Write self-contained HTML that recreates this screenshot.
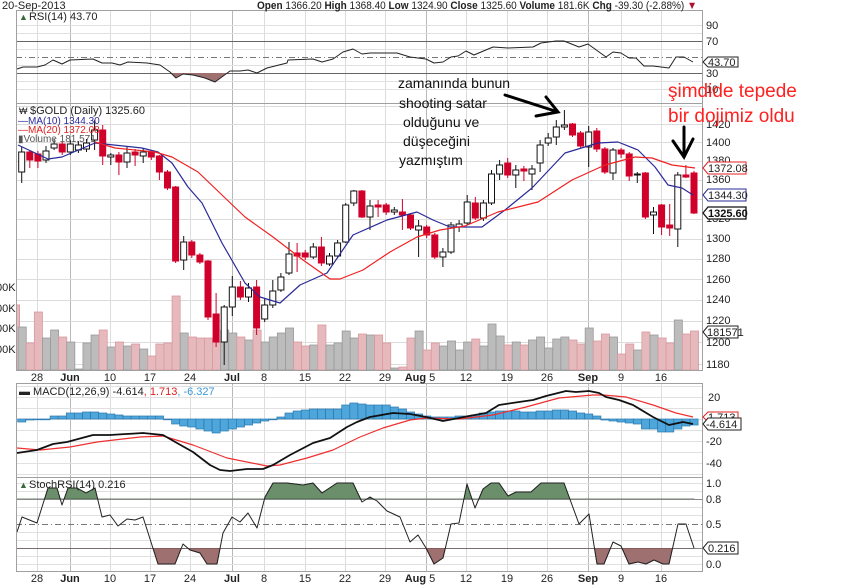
<!DOCTYPE html>
<html><head><meta charset="utf-8"><style>
html,body{margin:0;padding:0;background:#fff;}
svg{display:block;font-family:"Liberation Sans",sans-serif;}
</style></head><body>
<svg id="c" width="852" height="585" viewBox="0 0 852 585" xmlns="http://www.w3.org/2000/svg">
<defs>
<clipPath id="pa"><rect x="16" y="10" width="686" height="562"/></clipPath>
<clipPath id="rsiLow"><rect x="16" y="73" width="686" height="30"/></clipPath>
<clipPath id="stHi"><rect x="16" y="477" width="686" height="22"/></clipPath>
<clipPath id="stLo"><rect x="16" y="548" width="686" height="24"/></clipPath>
</defs>
<rect width="852" height="585" fill="#fff"/>
<g id="grid"></g>
<g id="data" clip-path="url(#pa)"></g>
<g fill="none" stroke="#a0a0a0" stroke-width="1">
<rect x="16.5" y="10.5" width="686" height="93"/>
<rect x="16.5" y="103.5" width="686" height="267"/>
<rect x="16.5" y="383.5" width="686" height="94"/>
<rect x="16.5" y="477.5" width="686" height="94"/>
</g>
<text x="2" y="9" font-size="11" fill="#222">20-Sep-2013</text>
<text x="257" y="9" font-size="11" fill="#222" textLength="440" lengthAdjust="spacingAndGlyphs"><tspan font-weight="bold">Open</tspan> 1366.20 <tspan font-weight="bold">High</tspan> 1368.40 <tspan font-weight="bold">Low</tspan> 1324.90 <tspan font-weight="bold">Close</tspan> 1325.60 <tspan font-weight="bold">Volume</tspan> 181.6K <tspan font-weight="bold">Chg</tspan> -39.30 (-2.88%) <tspan fill="#b01030">▼</tspan></text>
<g font-size="11" fill="#222">
<text x="19" y="20" fill="#3a6a3a" font-size="9">▲</text>
<text x="29" y="20">RSI(14) 43.70</text>
<text x="19" y="114" font-size="9">₩</text>
<text x="30" y="114">$GOLD (Daily) 1325.60</text>
<text x="18" y="124" fill="#2a2a9a" font-size="10">—MA(10) 1344.30</text>
<text x="18" y="133" fill="#e02020" font-size="10">—MA(20) 1372.08</text>
<text x="18" y="142" fill="#555" font-size="10">▮Volume 181,571</text>
<text x="19" y="395">▬ MACD(12,26,9) -4.614<tspan fill="#e02020">, 1.713</tspan><tspan fill="#3a9ad9">, -6.327</tspan></text>
<text x="19" y="488" fill="#3a6a3a" font-size="9">▲</text>
<text x="29" y="488">StochRSI(14) 0.216</text>
</g>
<g font-size="11" fill="#222">
<text x="706" y="29">90</text><text x="706" y="45">70</text><text x="706" y="77">30</text><text x="706" y="93">10</text>
<text x="706" y="128">1420</text><text x="706" y="146">1400</text><text x="706" y="164">1380</text><text x="706" y="183">1360</text>
<text x="706" y="222">1320</text><text x="706" y="242">1300</text><text x="706" y="262">1280</text><text x="706" y="283">1260</text>
<text x="706" y="303">1240</text><text x="706" y="324">1220</text><text x="706" y="346">1200</text><text x="706" y="368">1180</text>
<text x="708" y="401">20</text><text x="706" y="445">-20</text><text x="706" y="467">-40</text>
<text x="706" y="487">1.0</text><text x="706" y="503">0.8</text><text x="706" y="528">0.5</text><text x="706" y="568">0.0</text>
</g>
<g font-size="11" fill="#222">
<text x="-4" y="291">00K</text><text x="-4" y="312">00K</text><text x="-4" y="332">00K</text><text x="-4" y="353">00K</text>
</g>
<g font-size="11">
<path d="M703,62 L708,57 L738,57 L738,67 L708,67 Z" fill="#fff" stroke="#222"/><text x="708" y="66" fill="#222">43.70</text>
<path d="M703,168 L708,162 L746,162 L746,174 L708,174 Z" fill="#fff" stroke="#e02020"/><text x="708" y="172" fill="#222">1372.08</text>
<path d="M703,195 L708,189 L746,189 L746,201 L708,201 Z" fill="#fff" stroke="#2a2a9a"/><text x="708" y="199" fill="#222">1344.30</text>
<path d="M703,213 L708,207 L746,207 L746,219 L708,219 Z" fill="#fff" stroke="#111" stroke-width="1.3"/><text x="708" y="217" fill="#111" font-weight="bold">1325.60</text>
<path d="M703,332 L708,326 L738,326 L738,338 L708,338 Z" fill="#fff" stroke="#222"/><text x="707" y="336" fill="#222">181571</text>
<path d="M703,417 L708,412 L738,412 L738,422 L708,422 Z" fill="#fff" stroke="#e02020"/><text x="708" y="421" fill="#222">1.713</text>
<path d="M703,424 L708,418 L741,418 L741,430 L708,430 Z" fill="#fff" stroke="#222"/><text x="706" y="428" fill="#222">-4.614</text>
<path d="M703,548 L708,542 L738,542 L738,554 L708,554 Z" fill="#fff" stroke="#222"/><text x="708" y="552" fill="#222">0.216</text>
</g>
<g font-size="11" fill="#222" text-anchor="middle">
<text x="37" y="381">28</text><text x="70" y="381" font-weight="bold">Jun</text><text x="110" y="381">10</text><text x="150" y="381">17</text><text x="190" y="381">24</text><text x="232" y="381" font-weight="bold">Jul</text><text x="264" y="381">8</text><text x="305" y="381">15</text><text x="345" y="381">22</text><text x="385" y="381">29</text><text x="420" y="381"><tspan font-weight="bold">Aug</tspan> 5</text><text x="466" y="381">12</text><text x="507" y="381">19</text><text x="547" y="381">26</text><text x="588" y="381" font-weight="bold">Sep</text><text x="621" y="381">9</text><text x="661" y="381">16</text>
<text x="37" y="582">28</text><text x="70" y="582" font-weight="bold">Jun</text><text x="110" y="582">10</text><text x="150" y="582">17</text><text x="190" y="582">24</text><text x="232" y="582" font-weight="bold">Jul</text><text x="264" y="582">8</text><text x="305" y="582">15</text><text x="345" y="582">22</text><text x="385" y="582">29</text><text x="420" y="582"><tspan font-weight="bold">Aug</tspan> 5</text><text x="466" y="582">12</text><text x="507" y="582">19</text><text x="547" y="582">26</text><text x="588" y="582" font-weight="bold">Sep</text><text x="621" y="582">9</text><text x="661" y="582">16</text>
</g>
<g font-size="14" fill="#111">
<text x="398" y="88">zamanında bunun</text>
<text x="399" y="108">shooting satar</text>
<text x="403" y="127">olduğunu ve</text>
<text x="403" y="146">düşeceğini</text>
<text x="399" y="165">yazmıştım</text>
</g>
<g font-size="19" fill="#ff2020">
<text x="668" y="97">şimdide tepede</text>
<text x="668" y="122">bir dojimiz oldu</text>
</g>
<g stroke="#000" stroke-width="3" fill="none" stroke-linecap="round">
<path d="M505,95 L558,112 M546,97 L558,112 L536,116"/>
<path d="M684,127 L684,157 M673,141 L684,157 L693,139"/>
</g>
<script>
(function(){
var NS="http://www.w3.org/2000/svg";
var G=document.getElementById('grid'),D=document.getElementById('data');
function el(p,t,a){var e=document.createElementNS(NS,t);for(var k in a)e.setAttribute(k,a[k]);p.appendChild(e);return e;}
function X(i){return 21.7+8.1*i;}
var vx=[37,110,150,190,264,305,345,385,466,507,547,621,661],mx=[70,232,426,588];
[[10,103],[103,370],[383,477],[477,572]].forEach(function(r){
 vx.forEach(function(x){el(G,'line',{x1:x+.5,x2:x+.5,y1:r[0],y2:r[1],stroke:'#dcdcdc'});});
 mx.forEach(function(x){el(G,'line',{x1:x+.5,x2:x+.5,y1:r[0],y2:r[1],stroke:'#b8b8b8'});});
});
function hl(y,c,d){var a={x1:16,x2:702,y1:Math.round(y)+.5,y2:Math.round(y)+.5,stroke:c};if(d)a['stroke-dasharray']=d;el(G,'line',a);}
for(var v=10;v<=90;v+=10){var y=97-0.8*v;if(v==70||v==30)hl(y,'#666');else if(v==50)hl(y,'#777','6,3,1,3');else hl(y,'#e0e0e0');}
for(var p=1180;p<=1440;p+=20){hl(9535.3-1296.6*Math.log(p),'#dcdcdc');}
for(var k=-5;k<=3;k++){hl(419-11*k,'#e0e0e0');}
for(var s=0;s<=10;s++){var y=564-81*s/10;if(s==8||s==2)hl(y,'#888');else if(s==5)hl(y,'#777','6,3,1,3');else hl(y,'#e0e0e0');}
hl(548,'#888');
var C=[[152,172,147,183,1],[152,160,150,168,0],[154,161,151,168,0],[151,160,146,163,1],[144,148,139,150,1],[144,152,142,155,0],[144,152,140,155,1],[145,150,141,153,1],[143,149,139,152,1],[130,140,120,150,1],
[130,156,125,165,0],[155,157,153,165,1],[155,162,152,175,0],[153,162,147,168,1],[152,155,149,166,0],[152,156,148,163,1],[152,157,150,160,0],[156,172,155,180,0],[172,188,170,190,0],[187,261,186,263,0],
[242,260,236,270,1],[242,255,240,258,0],[255,262,253,264,0],[261,317,260,320,0],[314,342,293,347,0],[307,342,305,365,1],[287,307,276,316,1],[287,297,281,300,0],[288,297,283,302,1],[287,328,280,335,0],
[305,319,298,322,1],[291,305,280,308,1],[277,290,273,292,1],[254,273,242,275,1],[253,256,243,272,0],[253,257,250,260,0],[247,257,243,259,1],[247,263,237,266,0],[256,264,253,266,1],[243,256,240,258,1],
[205,242,203,243,1],[191,203,190,206,1],[191,217,190,218,0],[206,217,200,230,1],[205,207,200,217,0],[205,212,203,215,0],[210,212,207,215,1],[212,215,199,230,0],[215,228,213,230,0],[226,230,220,257,1],
[227,235,225,238,0],[235,257,233,259,0],[252,257,248,267,1],[225,252,222,254,1],[224,227,220,232,1],[202,223,195,225,1],[203,218,197,220,0],[203,218,200,221,1],[174,203,170,205,1],[165,174,160,180,1],
[163,175,158,178,0],[170,175,165,188,1],[169,171,166,181,0],[169,174,165,190,1],[145,163,140,172,1],[138,143,133,146,1],[127,137,120,145,1],[125,127,110,130,1],[124,135,123,137,0],[133,146,131,148,0],
[132,147,126,167,1],[131,149,128,152,0],[149,172,147,174,0],[150,173,148,180,1],[150,154,148,158,0],[154,176,152,181,0],[174,175,172,183,1],[173,217,172,219,0],[212,215,207,234,1],[205,227,204,235,0],
[225,228,204,236,0],[175,229,172,247,1],[175,177,165,178,0],[173,213,171,214,0]];
var V=[327,343,312,338,330,337,342,369,343,335,330,347,342,346,344,349,356,344,343,296,333,337,338,338,342,330,333,337,340,330,342,337,333,328,342,346,345,325,345,343,331,338,334,335,335,343,368,367,338,331,350,343,346,341,350,342,339,346,324,336,345,342,345,340,337,348,339,337,340,344,328,341,334,337,354,344,350,332,335,338,343,320,334,331];
el(D,'rect',{x:16,y:305,width:3.5,height:65,fill:'#e6b9bd',stroke:'#d99aa0'});
V.forEach(function(t,i){var up=C[i][4];el(D,'rect',{x:X(i)-3.55,y:t,width:8.1,height:370-t,fill:up?'#bcbcbc':'#e6b9bd',stroke:up?'#999':'#d99aa0','stroke-width':0.8});});
function pl(pts,c,w){el(D,'polyline',{points:pts,fill:'none',stroke:c,'stroke-width':w||1.2,'stroke-linejoin':'round'});}
C.forEach(function(c,i){var x=X(i),col=c[4]?'#111':'#d0002a';
 el(D,'line',{x1:x,x2:x,y1:c[2],y2:c[3],stroke:col,'stroke-width':1});
 el(D,'rect',{x:x-3,y:c[0],width:6,height:Math.max(1,c[1]-c[0]),fill:c[4]?'#fff':'#d0002a',stroke:col,'stroke-width':1});
});
pl("18,145 48,159 62,157 95,143 142,148 158,152 172,163 188,187 202,203 222,243 245,283 260,297 280,303 300,285 327,273 353,235 387,220 417,212 433,220 450,227 465,227 482,227 505,210 532,188 565,153 598,143 618,142 638,150 655,167 668,185 682,188 693,195",'#2a2a9a');
pl("95,142 115,148 155,152 172,157 198,172 222,195 245,217 273,237 303,260 330,279 340,279 363,270 390,252 417,237 440,230 465,226 498,212 538,202 572,180 605,165 635,157 652,158 672,165 695,168",'#f02020');
var R="17,69 23,67 37,67 45,65 53,60 62,64 70,60 93,59 102,63 112,63 120,65 128,62 147,63 160,65 170,72 176,78 183,74 193,75 205,78 215,82 230,71 240,71 248,70 257,73 267,68 287,63 288,60 313,59 322,62 333,59 343,52 353,49 362,54 370,53 397,53 410,57 426,59 434,63 443,62 451,57 458,56 466,51 474,55 493,47 508,48 533,47 541,43 556,41 564,41 579,47 588,44 606,57 613,52 621,53 629,58 636,58 644,66 653,66 669,68 676,57 684,57 693,62";
el(D,'polygon',{points:R+" 693,73 17,73",fill:'#9e7070','clip-path':'url(#rsiLow)'});
pl(R,'#222',1);
var H=[-3,-1,0,0,3,3,6,6,7,7,6,5,4,3,3,3,3,3,0,-5,-7,-8,-10,-12,-14,-12,-10,-8,-6,-4,-2,0,2,6,8,9,10,10,10,10,14,16,15,14,14,14,12,10,7,5,3,2,2,2,3,3,4,6,7,8,8,8,7,7,8,8,9,9,8,6,5,3,-1,-2,-3,-4,-5,-10,-10,-13,-13,-10,-7,-6];
H.forEach(function(h,i){var y=h>0?419-h:419;el(D,'rect',{x:X(i)-4,y:y,width:8.1,height:Math.max(0.8,Math.abs(h)),fill:'#4ea6da',stroke:'#2a78b0','stroke-width':0.7});});
pl("17,448 40,450 70,447 97,442 140,437 163,436 193,445 227,458 267,466 280,465 307,458 333,450 360,437 383,428 410,420 426,418 459,419 493,415 526,407 559,398 593,395 603,395 626,397 653,405 676,413 693,417",'#f03030',1.2);
pl("17,453 37,450 53,444 67,442 93,435 110,435 143,433 163,435 177,443 193,452 210,465 220,470 230,471 247,469 263,469 273,465 290,455 313,443 330,438 347,427 357,422 370,417 393,413 410,414 426,417 443,421 459,418 469,416 486,413 499,405 519,402 533,400 546,396 566,391 576,392 589,391 599,393 606,397 619,400 633,405 653,417 669,425 683,422 693,424",'#111',1.8);
var S="17,532 22,517 37,523 48,488 57,488 62,505 68,488 77,488 86,493 95,488 102,517 110,515 118,526 127,519 135,520 143,517 158,564 175,564 183,544 190,550 200,553 207,564 217,564 223,533 232,517 240,522 248,513 257,528 265,497 273,483 287,483 303,485 313,483 322,493 337,483 353,483 362,502 370,497 377,501 387,511 400,517 410,542 418,535 426,548 434,564 443,558 451,524 459,523 467,484 475,508 483,489 491,483 499,483 508,496 516,492 531,492 541,483 564,483 579,524 589,514 597,564 604,564 613,542 621,546 629,564 638,562 646,564 654,560 663,564 669,564 678,524 686,524 694,548";
el(D,'polygon',{points:S+" 694,499 17,499",fill:'#6a8f6a',stroke:'#3c5c3c','stroke-width':0.8,'clip-path':'url(#stHi)'});
el(D,'polygon',{points:S+" 694,548 17,548",fill:'#9e7070',stroke:'#5c3c3c','stroke-width':0.8,'clip-path':'url(#stLo)'});
pl(S,'#222',1);
})();
</script>
</svg>
</body></html>
